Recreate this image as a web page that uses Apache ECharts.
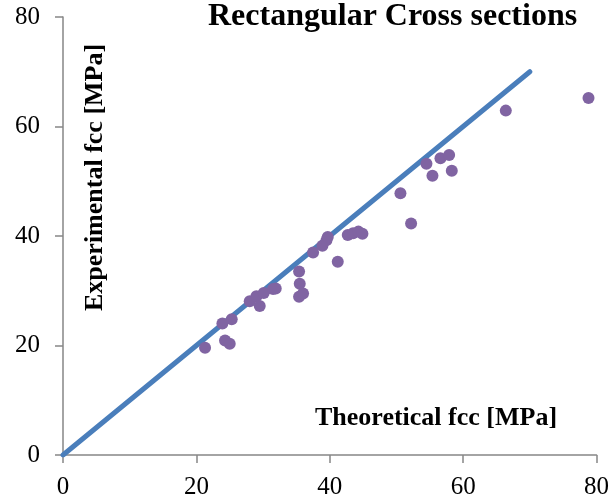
<!DOCTYPE html>
<html>
<head>
<meta charset="utf-8">
<script src="https://cdn.jsdelivr.net/npm/echarts@6/dist/echarts.min.js"></script>
<style>html,body{margin:0;padding:0;background:#fff;}#c{width:612px;height:501px;}</style>
</head>
<body>
<div id="c"></div>
<script>
var theoretical = [21.3, 23.9, 25.3, 24.3, 25.0, 28.0, 29.0, 29.5, 30.1, 31.5, 31.9, 35.4, 35.5, 35.4, 36.0, 37.5, 38.9, 39.5, 39.7, 41.2, 42.7, 43.5, 44.3, 44.9, 50.6, 52.2, 54.5, 55.4, 56.6, 57.9, 58.3, 66.4, 78.8];
var experimental = [19.6, 24.0, 24.8, 20.9, 20.3, 28.1, 29.0, 27.2, 29.6, 30.3, 30.4, 33.5, 31.3, 28.9, 29.5, 37.0, 38.2, 39.2, 39.8, 35.3, 40.2, 40.5, 40.8, 40.4, 47.8, 42.3, 53.2, 51.0, 54.2, 54.8, 51.9, 62.9, 65.2];
var lineX = [0, 70];
var lineY = [0, 70];
var xTicks = [0, 20, 40, 60, 80];
var yTicks = [0, 20, 40, 60, 80];
var titleText = 'Rectangular Cross sections';
var xName = 'Theoretical fcc [MPa]';
var yName = 'Experimental fcc [MPa]';

var pts = theoretical.map(function (v, i) { return [v, experimental[i]]; });
var linePts = lineX.map(function (v, i) { return [v, lineY[i]]; });
var serif = '"Liberation Serif", "Times New Roman", serif';
var axisCol = '#868686';

var chart = echarts.init(document.getElementById('c'));
chart.setOption({
  animation: false,
  backgroundColor: '#fff',
  grid: { left: 63, right: 15, top: 17, bottom: 46, containLabel: false },
  xAxis: {
    type: 'value', min: xTicks[0], max: xTicks[xTicks.length - 1], interval: 20,
    axisLine: { show: true, lineStyle: { color: axisCol, width: 1.5 } },
    axisTick: { show: true, length: 8, inside: false, lineStyle: { color: axisCol, width: 1.5 } },
    splitLine: { show: false },
    axisLabel: { fontFamily: serif, fontSize: 25, color: '#000', margin: 20 }
  },
  yAxis: {
    type: 'value', min: yTicks[0], max: yTicks[yTicks.length - 1], interval: 20,
    axisLine: { show: true, lineStyle: { color: axisCol, width: 1.5 } },
    axisTick: { show: true, length: 8, lineStyle: { color: axisCol, width: 1.5 } },
    splitLine: { show: false },
    axisLabel: { fontFamily: serif, fontSize: 25, color: '#000', margin: 23 }
  },
  graphic: [
    { type: 'text', left: 208, top: 1, style: { text: titleText, font: 'bold 32px ' + serif, fill: '#000' } },
    { type: 'text', left: 315, top: 405, style: { text: xName, font: 'bold 26px ' + serif, fill: '#000' } },
    { type: 'text', x: 82, y: 311, rotation: Math.PI / 2, style: { text: yName, font: 'bold 26px ' + serif, fill: '#000', textAlign: 'left', textVerticalAlign: 'top' } }
  ],
  series: [
    {
      type: 'line', data: linePts, showSymbol: false, symbol: 'none',
      lineStyle: { color: '#4A7EBB', width: 5, cap: 'round' }, z: 2
    },
    {
      type: 'scatter', data: pts, symbolSize: 12,
      itemStyle: { color: '#8064A2', opacity: 1 }, z: 3
    }
  ]
});
</script>
</body>
</html>
